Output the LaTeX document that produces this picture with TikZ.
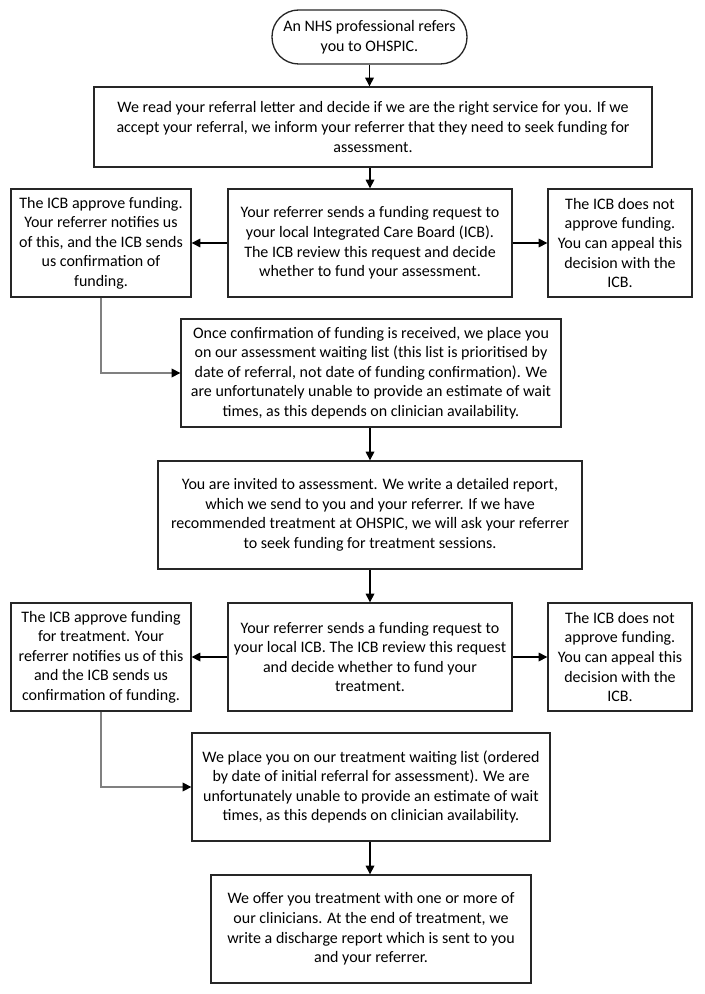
\documentclass[tikz,border=0pt]{standalone}
\usepackage{fontspec}
\setmainfont{Carlito}
\usetikzlibrary{arrows.meta}
\tikzset{
  box/.style={draw=black!85, line width=1pt, align=center, inner sep=0pt,
    font=\fontsize{12}{14.65}\selectfont},
  arr/.style={draw=black, line width=0.9pt, -{Triangle[length=6.5pt,width=6.5pt]}},
  garr/.style={draw=black!50, line width=1pt, -{Triangle[length=6.5pt,width=6.5pt,color=black]}}
}
\newcommand\placebox[7][]{\node[box,#1, minimum width={(#4-#2)*0.75pt}, minimum height={(#5-#3)*0.75pt}] (#6) at ({(#2+#4)/2},{(#3+#5)/2}) {#7};}
\begin{document}
\begin{tikzpicture}[x=0.75pt,y=-0.75pt]
\useasboundingbox (0,0) rectangle (704,994);
\placebox[rounded corners=20pt]{272}{10}{467}{64}{start}{An NHS professional refers\\you to OHSPIC.}
\placebox{94}{87}{652}{167}{b2}{We read your referral letter and decide if we are the right service for you. If we\\accept your referral, we inform your referrer that they need to seek funding for\\assessment.}
\placebox{228}{189}{512}{297}{c3}{Your referrer sends a funding request to\\your local Integrated Care Board (ICB).\\The ICB review this request and decide\\whether to fund your assessment.}
\placebox{11}{189}{191}{297}{l3}{The ICB approve funding.\\Your referrer notifies us\\of this, and the ICB sends\\us confirmation of\\funding.}
\placebox{548}{189}{692}{297}{r3}{The ICB does not\\approve funding.\\You can appeal this\\decision with the\\ICB.}
\placebox{181}{319}{561}{427}{b4}{Once confirmation of funding is received, we place you\\on our assessment waiting list (this list is prioritised by\\date of referral, not date of funding confirmation). We\\are unfortunately unable to provide an estimate of wait\\times, as this depends on clinician availability.}
\placebox{158}{461}{582}{569}{b5}{You are invited to assessment. We write a detailed report,\\which we send to you and your referrer. If we have\\recommended treatment at OHSPIC, we will ask your referrer\\to seek funding for treatment sessions.}
\placebox{228}{603}{512}{711}{c6}{Your referrer sends a funding request to\\your local ICB. The ICB review this request\\and decide whether to fund your\\treatment.}
\placebox{11}{603}{191}{711}{l6}{The ICB approve funding\\for treatment. Your\\referrer notifies us of this\\and the ICB sends us\\confirmation of funding.}
\placebox{548}{603}{692}{711}{r6}{The ICB does not\\approve funding.\\You can appeal this\\decision with the\\ICB.}
\placebox{192}{733}{550}{841}{b7}{We place you on our treatment waiting list (ordered\\by date of initial referral for assessment). We are\\unfortunately unable to provide an estimate of wait\\times, as this depends on clinician availability.}
\placebox{211}{875}{531}{983}{b8}{We offer you treatment with one or more of\\our clinicians. At the end of treatment, we\\write a discharge report which is sent to you\\and your referrer.}
\draw[arr] (start.south) -- (start.south |- b2.north);
\draw[arr] (c3.north |- b2.south) -- (c3.north);
\draw[arr] (c3.west) -- (l3.east);
\draw[arr] (c3.east) -- (r3.west);
\draw[garr] (l3.south) |- (b4.west);
\draw[arr] (c3.south |- b4.south) -- (c3.south |- b5.north);
\draw[arr] (c6.north |- b5.south) -- (c6.north);
\draw[arr] (c6.west) -- (l6.east);
\draw[arr] (c6.east) -- (r6.west);
\draw[garr] (l6.south) |- (b7.west);
\draw[arr] (c6.south |- b7.south) -- (c6.south |- b8.north);
\end{tikzpicture}
\end{document}
